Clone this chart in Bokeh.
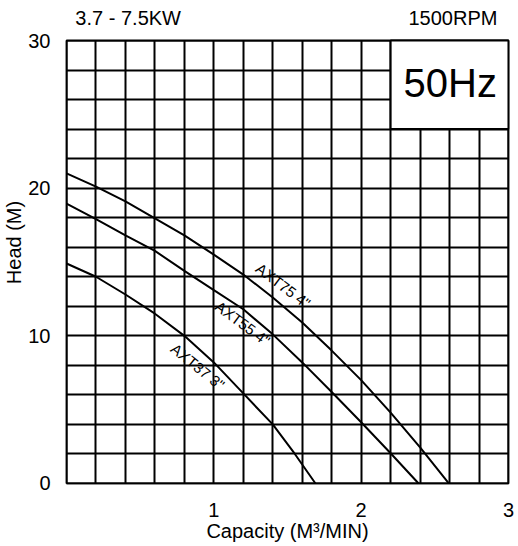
import math
from bokeh.plotting import figure
from bokeh.models import (Range1d, FixedTicker, SingleIntervalTicker, Label,
                          ColumnDataSource)
from bokeh.core.properties import value
from bokeh.embed import file_html
from bokeh.resources import INLINE

FONT = "Liberation Sans"

# ---- data -------------------------------------------------------------
q_axt75 = [0, 0.2, 0.4, 0.6, 0.8, 1.0, 1.2, 1.4, 1.6, 1.8, 2.0, 2.2, 2.4, 2.595]
h_axt75 = [21.0, 20.1, 19.1, 17.95, 16.8, 15.5, 14.15, 12.6, 10.9, 9.0, 7.0, 4.8, 2.45, 0]

q_axt55 = [0, 0.2, 0.4, 0.6, 0.8, 1.0, 1.2, 1.4, 1.6, 1.8, 2.0, 2.2, 2.39]
h_axt55 = [18.95, 17.9, 16.8, 15.75, 14.4, 13.1, 11.8, 10.1, 8.2, 6.2, 4.15, 2.05, 0]

q_axt37 = [0, 0.2, 0.4, 0.6, 0.8, 1.0, 1.2, 1.4, 1.55, 1.69]
h_axt37 = [14.9, 14.0, 12.8, 11.5, 10.0, 8.2, 6.1, 4.0, 2.0, 0]

curve_names = ['AXT75 4"', 'AXT55 4"', 'AXT37 3"']
curve_label_q = [1.471, 1.196, 0.891]
curve_label_h = [13.4, 10.85, 7.92]
curve_label_deg = [37, 36.5, 39]

x_ticks = [1, 2, 3]
y_ticks = [0, 10, 20, 30]
q_max = 3.0
h_max = 30
hz_box_q = [2.2, 3.0]
hz_box_h = [24, 30]

# ---- figure -----------------------------------------------------------
# The plotting frame is extended above h=30 so that the header texts can
# be drawn as data-space labels; that strip is kept white.
X_LO, X_HI = -0.007, 3.007
Y_LO, Y_TOP = -0.068, 32.709
p = figure(width=518, height=546, output_backend="svg", toolbar_location=None,
           x_range=Range1d(X_LO, X_HI), y_range=Range1d(Y_LO, Y_TOP),
           min_border=0, min_border_left=64, min_border_right=9,
           min_border_top=0, min_border_bottom=62,
           background_fill_color="white", border_fill_color="white")

p.outline_line_color = None

p.xgrid.ticker = SingleIntervalTicker(interval=0.2, num_minor_ticks=0)
p.ygrid.ticker = SingleIntervalTicker(interval=2, num_minor_ticks=0)
for g in (p.xgrid, p.ygrid):
    g.grid_line_color = "black"
    g.grid_line_width = 2
    g.grid_line_alpha = 1
xg = p.xgrid[0]
if "cross_bounds" in xg.properties():
    xg.cross_bounds = (0, h_max)
    p.ygrid[0].cross_bounds = (0, q_max)
    p.ygrid[0].bounds = (0, h_max)

p.xaxis.ticker = FixedTicker(ticks=x_ticks)
p.yaxis.ticker = FixedTicker(ticks=y_ticks)
for ax in (p.xaxis, p.yaxis):
    ax.axis_line_color = None
    ax.major_tick_line_color = None
    ax.minor_tick_line_color = None
    ax.major_label_text_font = FONT
    ax.major_label_text_font_size = "20px"
    ax.major_label_text_color = "black"
    ax.axis_label_text_font = FONT
    ax.axis_label_text_font_size = "20px"
    ax.axis_label_text_font_style = "normal"
    ax.axis_label_text_color = "black"

p.xaxis.axis_label = "Capacity (M³/MIN)"
p.yaxis.axis_label = "Head (M)"
p.xaxis.major_label_standoff = 12
p.xaxis.axis_label_standoff = 0
p.yaxis.major_label_standoff = 9
p.yaxis.axis_label_standoff = 0

# white header strip above the chart area
p.quad(left=[X_LO], right=[X_HI], bottom=[h_max], top=[Y_TOP],
       fill_color="white", line_color=None)
# border of the chart area
p.line([0, 0, q_max, q_max, 0], [0, h_max, h_max, 0, 0],
       line_color="black", line_width=2)

# 50Hz box
p.quad(left=[hz_box_q[0]], right=[hz_box_q[1]], bottom=[hz_box_h[0]],
       top=[hz_box_h[1]], fill_color="white", line_color="black", line_width=2)

# curves
for qs, hs in ((q_axt75, h_axt75), (q_axt55, h_axt55), (q_axt37, h_axt37)):
    p.line(qs, hs, line_color="black", line_width=2)

src = ColumnDataSource(dict(
    x=curve_label_q, y=curve_label_h, text=curve_names,
    angle=[-math.radians(d) for d in curve_label_deg]))
p.text(x="x", y="y", text="text", angle="angle", source=src,
       text_align="center", text_baseline="middle",
       text_font=value(FONT), text_font_size="15px", text_color="black")

p.add_layout(Label(x=2.605, y=27.1, text="50Hz", text_align="center",
                   text_baseline="middle", text_font=FONT,
                   text_font_size="40px", text_color="black"))
p.add_layout(Label(x=0.06, y=31.5, text="3.7 - 7.5KW", text_align="left",
                   text_baseline="middle", text_font=FONT,
                   text_font_size="20px", text_color="black"))
p.add_layout(Label(x=2.925, y=31.5, text="1500RPM", text_align="right",
                   text_baseline="middle", text_font=FONT,
                   text_font_size="20px", text_color="black"))

open("out.html", "w").write(file_html(p, INLINE))
